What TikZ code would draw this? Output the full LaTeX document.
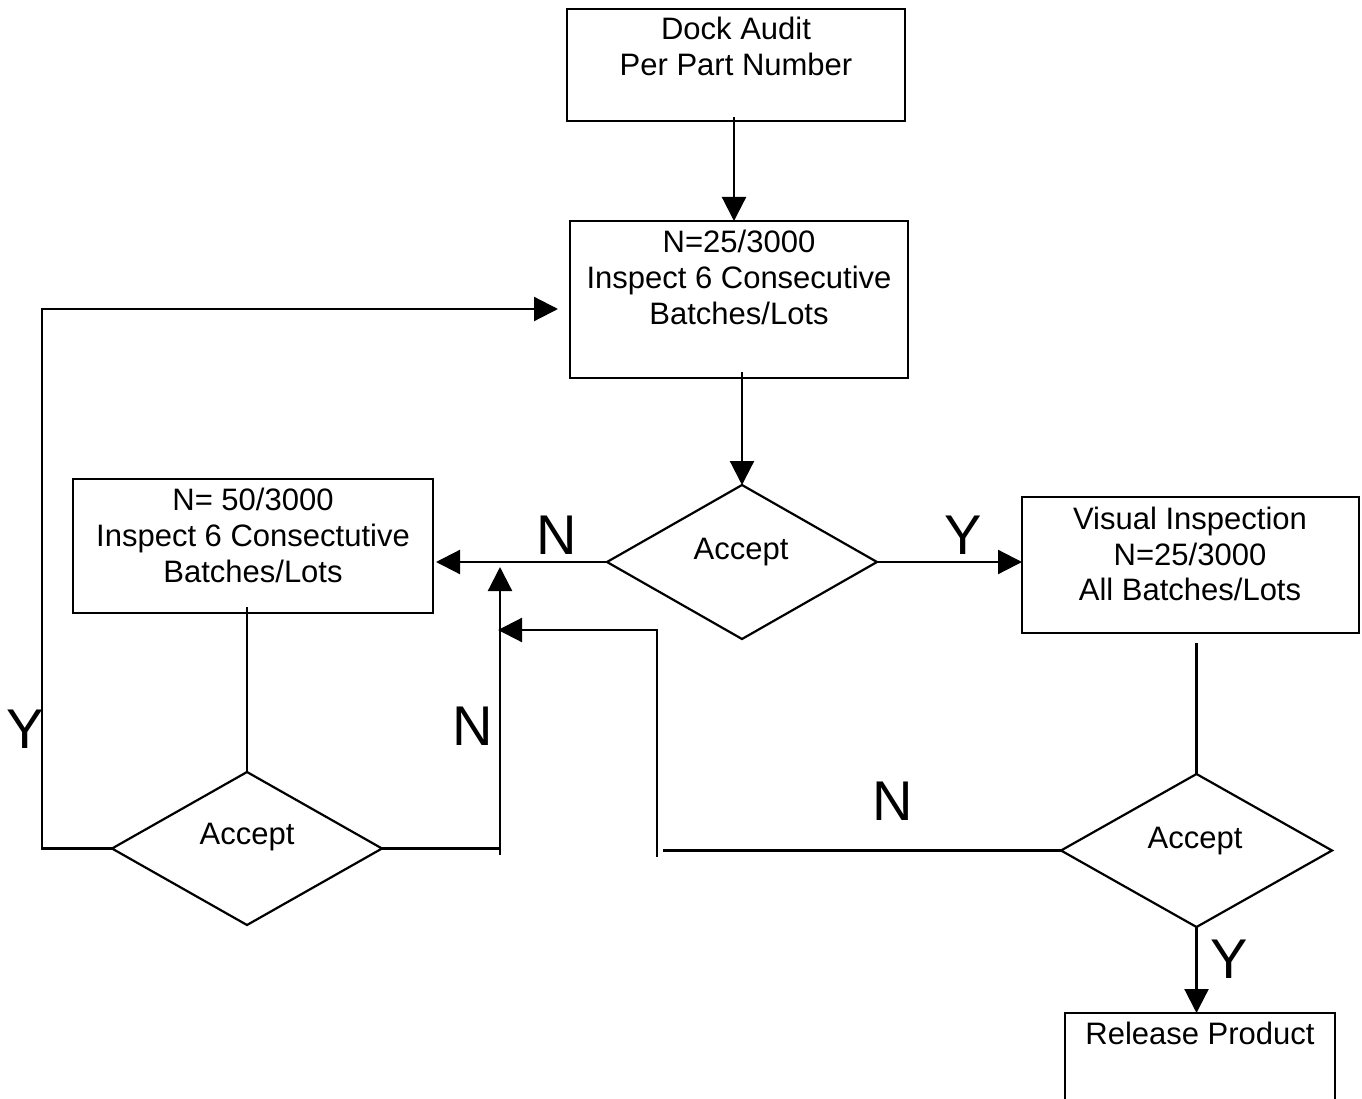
\documentclass[tikz,border=0pt]{standalone}
\usepackage{fontspec}
\setmainfont{Liberation Sans}
\usetikzlibrary{shapes.geometric,arrows.meta}
\begin{document}
\begin{tikzpicture}[x=1pt,y=-1pt,
  box/.style={draw, line width=2.2pt, rectangle, inner sep=0pt, outer sep=0pt},
  dia/.style={draw, line width=2.2pt, diamond, inner sep=0pt, outer sep=0pt, minimum width=270pt, minimum height=154pt},
  txt/.style={anchor=north, inner sep=0pt, align=center, font=\fontsize{31}{36}\selectfont},
  lbl/.style={anchor=base, inner sep=0pt, font=\fontsize{56}{60}\selectfont},
  conn/.style={line width=2.2pt},
  arr/.style={line width=2.2pt, -{Triangle[length=24pt,width=24pt]}}]
\clip (0,0) rectangle (1362,1099);
\fill[white] (0,0) rectangle (1362,1099);
% boxes
\node[box, minimum width=338pt, minimum height=112pt] (dock) at (736,65) {};
\node[box, minimum width=338pt, minimum height=157pt] (box2) at (739,299.5) {};
\node[box, minimum width=360pt, minimum height=134pt] (left) at (253,546) {};
\node[box, minimum width=337pt, minimum height=136pt] (visual) at (1190.5,565) {};
\node[box, minimum width=270pt, minimum height=117pt] (release) at (1200,1071.5) {};
% diamonds
\node[dia] (d1) at (742,562) {};
\node[dia, minimum height=153pt] (d2) at (247,848.5) {};
\node[dia, minimum width=271pt, minimum height=153pt] (d3) at (1196.5,850.5) {};
% texts
\node[txt] (tdock) at (736,17) {Dock Audit\\Per Part Number};
\node[txt] (tbox2) at (739,230) {N=25/3000\\Inspect 6 Consecutive\\Batches/Lots};
\node[txt] (tleft) at (253,488) {N= 50/3000\\Inspect 6 Consectutive\\Batches/Lots};
\node[txt, font=\fontsize{31}{35.5}\selectfont] (tvis) at (1190,507) {Visual Inspection\\N=25/3000\\All Batches/Lots};
\node[txt] (td1) at (741,538) {Accept};
\node[txt] (td2) at (247,823) {Accept};
\node[txt] (td3) at (1195,827) {Accept};
\node[txt] (trel) at (1200,1022) {Release Product};
% labels
\node[lbl] (ln1) at (557,554) {N};
\node[lbl] (ly1) at (963,554) {Y};
\node[lbl] (ly2) at (25,748) {Y};
\node[lbl] (ln2) at (473,745) {N};
\node[lbl] (ln3) at (893,820) {N};
\node[lbl] (ly3) at (1229,978) {Y};
% coordinates
\coordinate (ycorner) at (42,309);
\coordinate (j1) at (500,855);
\coordinate (j1top) at (500,567);
\coordinate (j2) at (657,857);
\coordinate (j2c) at (657,630);
% connectors
\draw[arr] ([xshift=-2pt,yshift=4pt]dock.south) -- ([xshift=-2pt]dock.south |- box2.north);
\draw[arr] ([yshift=6pt]box2.south -| d1.north) -- (d1.north);
\draw[arr, shorten >=3pt] (d1.west) -- (d1.west -| left.east);
\draw[arr] (d1.east) -- (d1.east -| visual.west);
\draw[conn] ([yshift=6pt]left.south -| d2.north) -- (d2.north);
\draw[arr] (d2.west) -| (ycorner) -- ([xshift=-12pt]box2.west |- ycorner);
\draw[conn] (d2.east) -- (d2.east -| j1);
\draw[arr] (j1) -- (j1top);
\draw[arr, shorten >=-2pt] (j2) -- (j2c) -- (j2c -| j1);
\draw[conn] (d3.west) -- ([xshift=6pt]d3.west -| j2);
\draw[conn] ([yshift=-10pt]visual.south -| d3.north) -- (d3.north);
\draw[arr] (d3.south) -- (d3.south |- release.north);
\end{tikzpicture}
\end{document}
